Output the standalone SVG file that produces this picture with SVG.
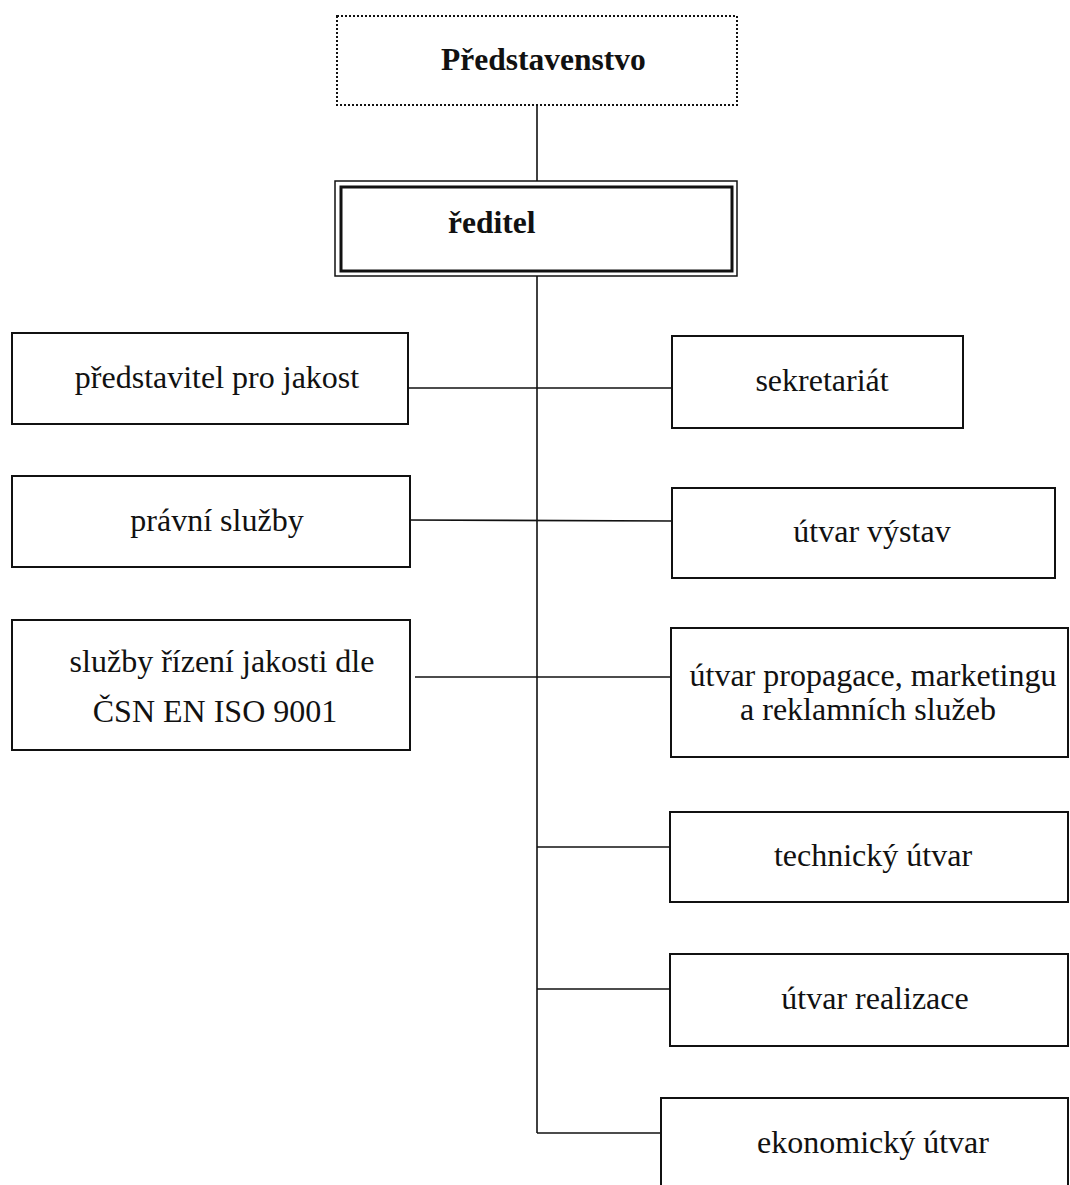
<svg xmlns="http://www.w3.org/2000/svg" width="1070" height="1185" viewBox="0 0 1070 1185">
<style>
.box{fill:#fff;stroke:#111;stroke-width:2}
.t{font-family:"Liberation Serif","Times New Roman",serif;font-size:32px;fill:#111;text-anchor:middle}
.b{font-family:"Liberation Serif","Times New Roman",serif;font-size:31.5px;font-weight:bold;fill:#111}
.c{stroke:#111;stroke-width:1.6;fill:none}
</style>
<rect width="1070" height="1185" fill="#fff"/>
<g id="connectors">
<line class="c" x1="537" y1="105" x2="537" y2="182"/>
<line class="c" x1="537" y1="275" x2="537" y2="1133"/>
<line class="c" x1="408" y1="388" x2="672" y2="388"/>
<line class="c" x1="405" y1="520" x2="672" y2="521"/>
<line class="c" x1="415" y1="677" x2="671" y2="677"/>
<line class="c" x1="537" y1="847" x2="670" y2="847"/>
<line class="c" x1="537" y1="989" x2="670" y2="989"/>
<line class="c" x1="537" y1="1133" x2="662" y2="1133"/>
</g>
<g id="predstavenstvo">
<rect x="337" y="16" width="400" height="89" fill="#fff" stroke="#111" stroke-width="2" stroke-dasharray="2 2"/>
<text class="b" x="441" y="70">Představenstvo</text>
</g>
<g id="reditel">
<rect x="335" y="181" width="402" height="95" fill="#fff" stroke="#111" stroke-width="1.5"/>
<rect x="341" y="187" width="391" height="84" fill="none" stroke="#111" stroke-width="3"/>
<text class="b" x="448" y="233">ředitel</text>
</g>
<g id="predstavitel">
<rect class="box" x="12" y="333" width="396" height="91"/>
<text class="t" x="217" y="388">představitel pro jakost</text>
</g>
<g id="pravni">
<rect class="box" x="12" y="476" width="398" height="91"/>
<text class="t" x="217" y="531">právní služby</text>
</g>
<g id="sluzby-rizeni">
<rect class="box" x="12" y="620" width="398" height="130"/>
<text class="t" x="222" y="672">služby řízení jakosti dle</text>
<text class="t" x="215" y="722">ČSN EN ISO 9001</text>
</g>
<g id="sekretariat">
<rect class="box" x="672" y="336" width="291" height="92"/>
<text class="t" x="822" y="391">sekretariát</text>
</g>
<g id="vystav">
<rect class="box" x="672" y="488" width="383" height="90"/>
<text class="t" x="872" y="542">útvar výstav</text>
</g>
<g id="propagace">
<rect class="box" x="671" y="628" width="397" height="129"/>
<text class="t" x="873" y="686">útvar propagace, marketingu</text>
<text class="t" x="868" y="720">a reklamních služeb</text>
</g>
<g id="technicky">
<rect class="box" x="670" y="812" width="398" height="90"/>
<text class="t" x="873" y="866">technický útvar</text>
</g>
<g id="realizace">
<rect class="box" x="670" y="954" width="398" height="92"/>
<text class="t" x="875" y="1009">útvar realizace</text>
</g>
<g id="ekonomicky">
<rect class="box" x="661" y="1098" width="407" height="100"/>
<text class="t" x="873" y="1153">ekonomický útvar</text>
</g>
</svg>
